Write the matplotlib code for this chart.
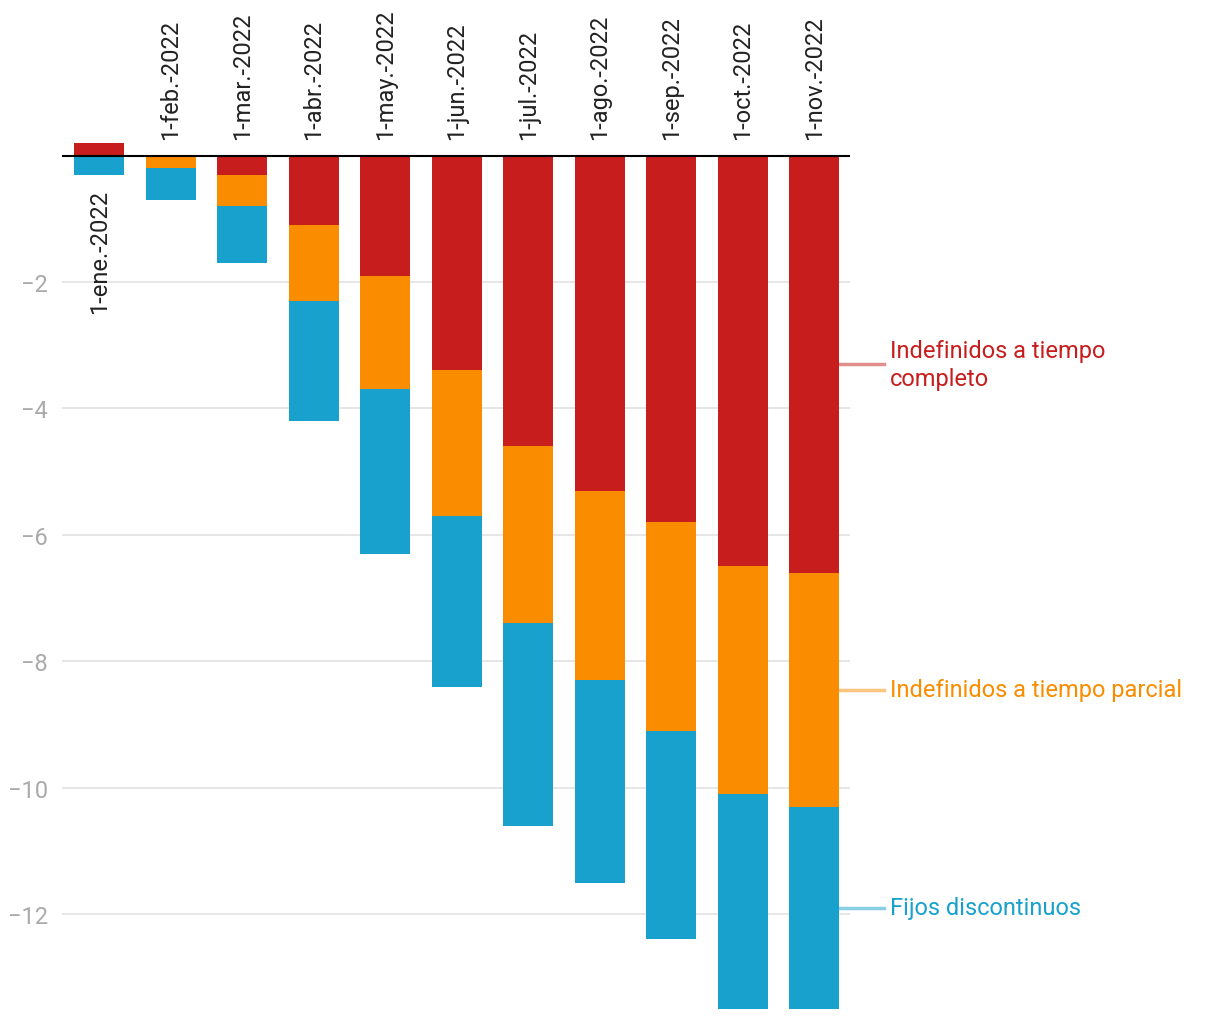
import matplotlib.pyplot as plt
import numpy as np

plt.rcParams['font.family'] = ['Roboto', 'DejaVu Sans']

fechas = ['1-ene.-2022', '1-feb.-2022', '1-mar.-2022', '1-abr.-2022', '1-may.-2022',
          '1-jun.-2022', '1-jul.-2022', '1-ago.-2022', '1-sep.-2022', '1-oct.-2022',
          '1-nov.-2022']
completo = [0.2, 0.0, -0.3, -1.1, -1.9, -3.4, -4.6, -5.3, -5.8, -6.5, -6.6]
parcial = [0.0, -0.2, -0.5, -1.2, -1.8, -2.3, -2.8, -3.0, -3.3, -3.6, -3.7]
fijos = [-0.3, -0.5, -0.9, -1.9, -2.6, -2.7, -3.2, -3.2, -3.3, -3.4, -3.2]
series = ['Indefinidos a tiempo\ncompleto', 'Indefinidos a tiempo parcial', 'Fijos discontinuos']
colores = ['#c71e1d', '#fa8c00', '#18a1cd']

fig = plt.figure(figsize=(12.2, 10.2), dpi=100)
ax = fig.add_axes([62 / 1220, 10 / 1020, 788 / 1220, 880 / 1020])

x = np.arange(len(fechas))
w = 0.70
pos_base = np.zeros(len(x))
neg_base = np.zeros(len(x))
for vals, col in zip([completo, parcial, fijos], colores):
    vals = np.array(vals)
    base = np.where(vals >= 0, pos_base, neg_base)
    ax.bar(x, vals, w, bottom=base, color=col, zorder=3)
    pos_base = pos_base + np.where(vals >= 0, vals, 0)
    neg_base = neg_base + np.where(vals < 0, vals, 0)

ax.set_xlim(-0.52, 10.5)
ax.set_ylim(-13.5, 0.42)
ax.set_yticks([-2, -4, -6, -8, -10, -12])
ax.set_yticklabels(['−2', '−4', '−6', '−8', '−10', '−12'])
ax.tick_params(axis='y', length=0, labelsize=17, labelcolor='#aaaaaa', pad=10)
ax.set_xticks([])
for s in ax.spines.values():
    s.set_visible(False)
ax.grid(axis='y', color='#e2e2e2', linewidth=1.2, zorder=0)
ax.axhline(0, color='black', linewidth=1.5, zorder=4)

# etiquetas de fecha (enero va debajo porque tiene parte positiva)
for i, f in enumerate(fechas):
    if i == 0:
        ax.annotate(f, (x[i], neg_base[i]), xytext=(0, -10), textcoords='offset points',
                    rotation=90, ha='center', va='top', fontsize=17, color='#222222')
    else:
        ax.annotate(f, (x[i], 0), xytext=(0, 12), textcoords='offset points',
                    rotation=90, ha='center', va='bottom', fontsize=17, color='#222222',
                    annotation_clip=False)

# etiquetas de serie a la derecha
last = len(x) - 1
mids = [completo[last] / 2,
        completo[last] + parcial[last] / 2,
        completo[last] + parcial[last] + fijos[last] / 2]
for nombre, col, m in zip(series, colores, mids):
    ax.plot([x[last] + w / 2, x[last] + w / 2 + 0.62], [m, m], color=col, alpha=0.5,
            linewidth=2.5, clip_on=False, zorder=2)
    ax.annotate(nombre, (x[last] + w / 2 + 0.71, m), ha='left', va='center',
                fontsize=17, color=col, annotation_clip=False, linespacing=1.28)

fig.savefig('out.png', dpi=100)
